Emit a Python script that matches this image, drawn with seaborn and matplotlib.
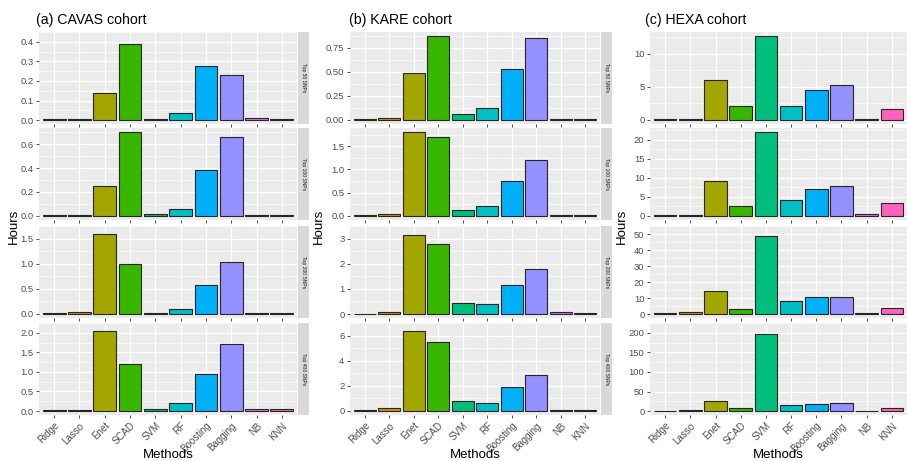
import numpy as np
import pandas as pd
import matplotlib
matplotlib.use("Agg")
import matplotlib.pyplot as plt
import seaborn as sns

# Computation time (hours) per method, cohort and SNP set
methods = ["Ridge", "Lasso", "Enet", "SCAD", "SVM", "RF", "Boosting", "Bagging", "NB", "KNN"]
snp_sets = ["Top 50 SNPs", "Top 100 SNPs", "Top 200 SNPs", "Top 400 SNPs"]
cohorts = ["(a) CAVAS cohort", "(b) KARE cohort", "(c) HEXA cohort"]

cavas_50 = [0.005, 0.005, 0.14, 0.39, 0.007, 0.035, 0.275, 0.23, 0.012, 0.005]
cavas_100 = [0.01, 0.01, 0.25, 0.70, 0.015, 0.06, 0.38, 0.66, 0.01, 0.005]
cavas_200 = [0.01, 0.03, 1.60, 0.99, 0.025, 0.09, 0.58, 1.04, 0.015, 0.01]
cavas_400 = [0.02, 0.02, 2.04, 1.19, 0.04, 0.20, 0.94, 1.71, 0.04, 0.04]

kare_50 = [0.01, 0.015, 0.49, 0.87, 0.06, 0.12, 0.53, 0.85, 0.01, 0.01]
kare_100 = [0.01, 0.03, 1.80, 1.70, 0.12, 0.22, 0.74, 1.20, 0.02, 0.02]
kare_200 = [0.02, 0.08, 3.15, 2.77, 0.42, 0.40, 1.16, 1.80, 0.07, 0.04]
kare_400 = [0.04, 0.20, 6.40, 5.50, 0.80, 0.60, 1.90, 2.85, 0.08, 0.05]

hexa_50 = [0.1, 0.1, 6.1, 2.1, 12.7, 2.1, 4.6, 5.3, 0.2, 1.6]
hexa_100 = [0.2, 0.2, 9.2, 2.7, 22.0, 4.2, 7.0, 7.9, 0.4, 3.5]
hexa_200 = [0.8, 1.3, 14.6, 2.9, 48.5, 8.0, 10.4, 10.4, 0.6, 3.6]
hexa_400 = [1.0, 2.0, 27.0, 9.0, 196.0, 15.0, 17.0, 20.0, 1.0, 7.0]

# y tick labels for each panel (cohort x SNP set)
cavas_ticks = [["0.0", "0.1", "0.2", "0.3", "0.4"], ["0.0", "0.2", "0.4", "0.6"],
               ["0.0", "0.5", "1.0", "1.5"], ["0.0", "0.5", "1.0", "1.5", "2.0"]]
kare_ticks = [["0.00", "0.25", "0.50", "0.75"], ["0.0", "0.5", "1.0", "1.5"],
              ["0", "1", "2", "3"], ["0", "2", "4", "6"]]
hexa_ticks = [["0", "5", "10"], ["0", "5", "10", "15", "20"],
              ["0", "10", "20", "30", "40", "50"], ["0", "50", "100", "150", "200"]]

values = {
    cohorts[0]: [cavas_50, cavas_100, cavas_200, cavas_400],
    cohorts[1]: [kare_50, kare_100, kare_200, kare_400],
    cohorts[2]: [hexa_50, hexa_100, hexa_200, hexa_400],
}
ticks = {cohorts[0]: cavas_ticks, cohorts[1]: kare_ticks, cohorts[2]: hexa_ticks}

rows = []
for c in cohorts:
    for s, vals in zip(snp_sets, values[c]):
        for m, v in zip(methods, vals):
            rows.append({"cohort": c, "snps": s, "method": m, "hours": v})
df = pd.DataFrame(rows)

# ggplot default hue palette for 10 levels
palette = ["#F8766D", "#D89000", "#A3A500", "#39B600", "#00BF7D",
           "#00BFC4", "#00B0F6", "#9590FF", "#E76BF3", "#FF62BC"]

sns.set_theme(style="darkgrid", rc={
    "axes.facecolor": "#EBEBEB",
    "grid.color": "white",
})
plt.rcParams["font.family"] = ["Liberation Sans", "DejaVu Sans"]

W, H = 907, 461
fig = plt.figure(figsize=(W / 100, H / 100), dpi=100)

lefts = [39, 350, 650]
widths = [258, 250, 257]
tops = [32, 128, 226, 323]
row_h = 92
strip_w = 11
ylab_x = [14, 319, 622]
title_x = [36, 349, 645]

for ci, c in enumerate(cohorts):
    for ri, s in enumerate(snp_sets):
        x0, w, y0 = lefts[ci], widths[ci], tops[ri]
        ax = fig.add_axes([x0 / W, 1 - (y0 + row_h) / H, w / W, row_h / H])
        data = df[(df["cohort"] == c) & (df["snps"] == s)]
        sns.barplot(data=data, x="method", y="hours", hue="method", order=methods,
                    hue_order=methods, palette=palette, dodge=False, width=0.9,
                    saturation=1, edgecolor="#262626", linewidth=0.8, legend=False, ax=ax)
        ymax = data["hours"].max()
        ax.set_ylim(-0.05 * ymax, 1.05 * ymax)
        ax.set_xlim(-0.6, 9.6)
        labs = ticks[c][ri]
        tv = [float(t) for t in labs]
        ax.set_yticks(tv)
        ax.set_yticklabels(labs)
        step = tv[1] - tv[0]
        ax.set_yticks([t + step / 2 for t in tv], minor=True)
        ax.grid(True, which="major", color="white", linewidth=0.9)
        ax.grid(True, which="minor", axis="y", color="white", linewidth=0.45)
        ax.set_axisbelow(True)
        ax.tick_params(axis="both", which="major", length=2.5, width=0.6, color="#333333",
                       labelsize=6.8, labelcolor="#4D4D4D", pad=1.5, bottom=True, left=True)
        ax.tick_params(axis="y", which="minor", length=0)
        for sp in ax.spines.values():
            sp.set_visible(False)
        ax.set_xlabel("")
        ax.set_ylabel("")
        if ri == 3:
            ax.set_xticks(range(len(methods)))
            ax.set_xticklabels(methods, rotation=45, ha="right", rotation_mode="anchor",
                               fontsize=7.0)
        else:
            ax.set_xticklabels([])
        # facet strip on the right (the last cohort's strips fall outside the picture)
        if x0 + w + strip_w < W:
            sax = fig.add_axes([(x0 + w + 1) / W, 1 - (y0 + row_h) / H, strip_w / W, row_h / H])
            sax.set_facecolor("#D9D9D9")
            sax.set_xticks([])
            sax.set_yticks([])
            sax.grid(False)
            for sp in sax.spines.values():
                sp.set_visible(False)
            sax.text(0.5, 0.5, s, rotation=-90, ha="center", va="center",
                     fontsize=3.6, color="#1A1A1A", transform=sax.transAxes)

    fig.text(title_x[ci] / W, 1 - 27 / H, c, fontsize=10.2, ha="left", va="bottom",
             color="black")
    fig.text(ylab_x[ci] / W, 1 - 226 / H, "Hours", rotation=90, fontsize=9.5,
             ha="center", va="center", color="black")
    fig.text((lefts[ci] + widths[ci] / 2) / W, 1 - 460.5 / H, "Methods", fontsize=9.5,
             ha="center", va="bottom", color="black")

fig.savefig("out.png", dpi=100)
